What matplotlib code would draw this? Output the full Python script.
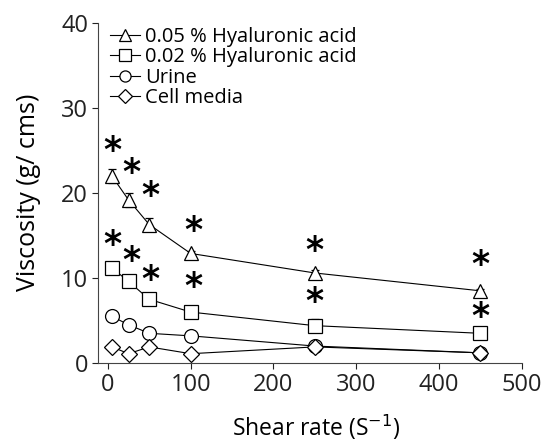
import matplotlib.pyplot as plt

plt.rcParams['font.family'] = ['Open Sans', 'DejaVu Sans']

# shear rates (1/s)
shear = [5, 25, 50, 100, 250, 450]

# viscosity (g/cms) per sample
hya05 = [22.0, 19.2, 16.3, 12.9, 10.6, 8.5]
hya05_err = [0.8, 0.8, 0.8, 0.3, 0.3, 0.2]
hya02 = [11.2, 9.6, 7.5, 6.0, 4.4, 3.5]
hya02_err = [0.2, 0.2, 0.2, 0.2, 0.8, 0.2]
urine = [5.5, 4.5, 3.5, 3.2, 2.0, 1.2]
urine_err = [0.2, 0.2, 0.2, 0.2, 0.2, 0.2]
media = [1.9, 1.1, 1.9, 1.1, 1.9, 1.2]
media_err = [0.2, 0.2, 0.4, 0.2, 0.2, 0.2]

# significance stars
star05_y = [25.0, 22.4, 19.7, 15.6, 13.2, 11.5]
star02_y = [13.9, 12.0, 9.8, 8.9, 7.2, 5.4]
star_x = [6, 29, 51, 103, 250, 450]

fig = plt.figure(figsize=(5.47, 4.46), dpi=100)
ax = fig.add_axes([0.179, 0.186, 0.775, 0.762])

series = [
    (hya05, hya05_err, '^', 10, '0.05 % Hyaluronic acid'),
    (hya02, hya02_err, 's', 10, '0.02 % Hyaluronic acid'),
    (urine, urine_err, 'o', 10, 'Urine'),
    (media, media_err, 'D', 8.5, 'Cell media'),
]
for vals, err, m, ms, lab in series:
    ax.errorbar(shear, vals, yerr=err, marker=m, markersize=ms, markerfacecolor='white',
                markeredgecolor='black', markeredgewidth=0.9, color='black', linewidth=0.8,
                elinewidth=0.9, capsize=3, capthick=0.9, label=lab)

for x, y in zip(star_x, star05_y):
    ax.text(x, y, '*', fontsize=25, fontweight='bold', ha='center', va='center',
            family='DejaVu Sans')
for x, y in zip(star_x, star02_y):
    ax.text(x, y, '*', fontsize=25, fontweight='bold', ha='center', va='center',
            family='DejaVu Sans')

ax.set_xlim(-12, 500)
ax.set_ylim(0, 40)
ax.set_xticks([0, 100, 200, 300, 400, 500])
ax.set_yticks([0, 10, 20, 30, 40])
ax.tick_params(labelsize=17, length=4, width=0.8, colors='#222222', pad=3)
ax.spines['top'].set_visible(False)
ax.spines['right'].set_visible(False)
for s in ['left', 'bottom']:
    ax.spines[s].set_linewidth(0.8)
    ax.spines[s].set_color('#444444')

ax.set_xlabel('Shear rate (S$^{-1}$)', fontsize=16.5)
ax.set_ylabel('Viscosity (g/ cms)', fontsize=18)
ax.xaxis.set_label_coords(0.515, -0.145)
ax.yaxis.set_label_coords(-0.135, 0.503)

handles, labels = ax.get_legend_handles_labels()
handles = [h[0] for h in handles]
ax.legend(handles, labels, loc='upper left', bbox_to_anchor=(0.0, 1.025), frameon=False,
          fontsize=14.5, handlelength=1.5, handletextpad=0.25, labelspacing=0.02,
          borderaxespad=0.2, markerscale=0.8)

fig.savefig('out.png', dpi=100)
